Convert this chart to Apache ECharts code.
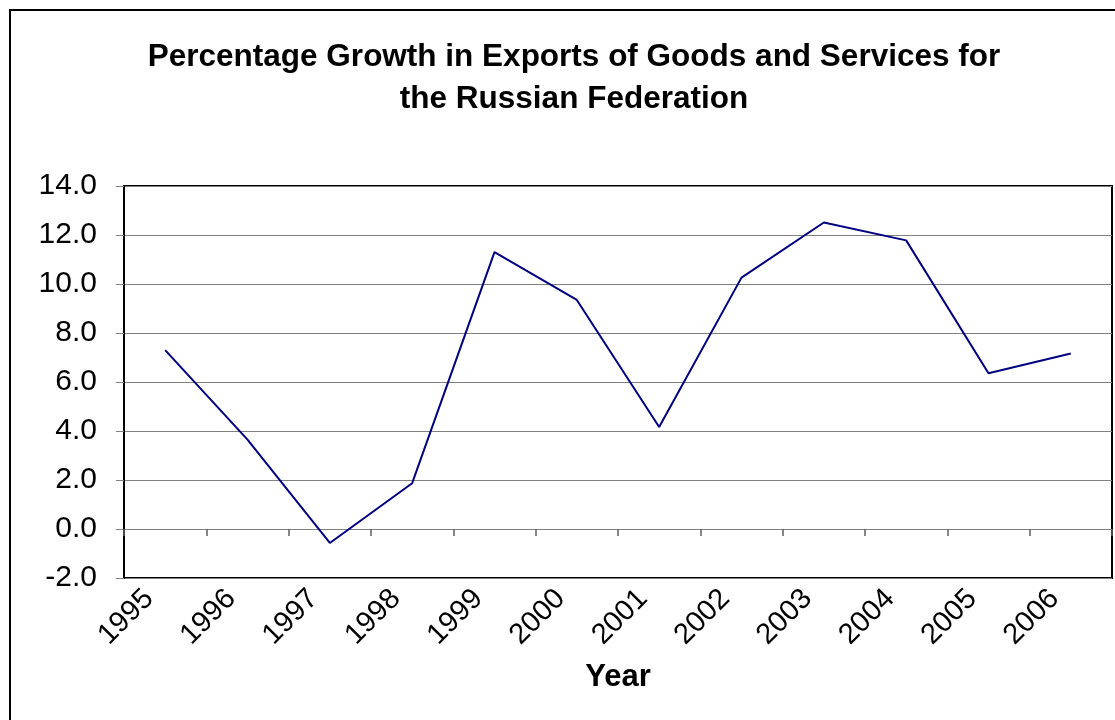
<!DOCTYPE html>
<html>
<head>
<meta charset="utf-8">
<script src="https://cdn.jsdelivr.net/npm/echarts@6/dist/echarts.min.js"></script>
<style>
html,body{margin:0;padding:0;background:#fff;}
#chart{width:1115px;height:720px;}
</style>
</head>
<body>
<div id="chart"></div>
<script>
const titleText = 'Percentage Growth in Exports of Goods and Services for\nthe Russian Federation';
const xAxisTitle = 'Year';
const years = ['1995','1996','1997','1998','1999','2000','2001','2002','2003','2004','2005','2006'];
const growth = [7.3, 3.65, -0.57, 1.87, 11.3, 9.35, 4.16, 10.26, 12.51, 11.78, 6.36, 7.16];
const yTicks = { min: -2, max: 14, interval: 2 };

const FONT = 'Arial, "Liberation Sans", sans-serif';
const chart = echarts.init(document.getElementById('chart'), null, { renderer: 'canvas' });
chart.setOption({
  backgroundColor: '#fff',
  animation: false,
  title: {
    text: titleText,
    left: 569,
    top: 31,
    textAlign: 'center',
    textStyle: { fontFamily: FONT, fontSize: 31.5, fontWeight: 'bold', color: '#000', lineHeight: 42 }
  },
  graphic: [{
    type: 'rect',
    shape: { x: 10, y: 10, width: 1200, height: 800 },
    style: { fill: 'none', stroke: '#000', lineWidth: 2 },
    silent: true
  }],
  grid: {
    left: 124, right: 3, top: 186, bottom: 142,
    show: true, borderColor: '#000', borderWidth: 2, backgroundColor: 'transparent'
  },
  xAxis: [{
    type: 'category',
    data: years,
    position: 'bottom',
    boundaryGap: true,
    axisLine: { show: false, onZero: false },
    axisTick: { show: false },
    axisLabel: {
      rotate: 45, margin: 0, color: '#000', fontFamily: FONT, fontSize: 29, interval: 0,
      padding: [0, 23, 8, 0]
    },
    name: xAxisTitle,
    nameLocation: 'middle',
    nameGap: 84,
    nameTextStyle: { fontFamily: FONT, fontSize: 31, fontWeight: 'bold', color: '#000' },
    splitLine: { show: false }
  }, {
    type: 'category',
    data: years,
    position: 'top',
    boundaryGap: true,
    axisLine: { show: false, onZero: true },
    axisTick: { show: true, inside: true, length: 7, lineStyle: { color: '#606060', width: 1.5 } },
    axisLabel: { show: false },
    splitLine: { show: false }
  }],
  yAxis: {
    type: 'value',
    min: yTicks.min, max: yTicks.max, interval: yTicks.interval,
    axisLine: { show: true, lineStyle: { color: '#000', width: 2 } },
    axisTick: { show: true, length: 8, lineStyle: { color: '#808080', width: 1 } },
    axisLabel: {
      margin: 27, color: '#000', fontFamily: FONT, fontSize: 30,
      formatter: v => v.toFixed(1)
    },
    splitLine: { show: true, lineStyle: { color: '#808080', width: 1 } }
  },
  series: [{
    type: 'line',
    data: growth,
    xAxisIndex: 0,
    showSymbol: false,
    symbol: 'none',
    lineStyle: { color: '#000080', width: 2 },
    z: 5
  }]
});
</script>
</body>
</html>
